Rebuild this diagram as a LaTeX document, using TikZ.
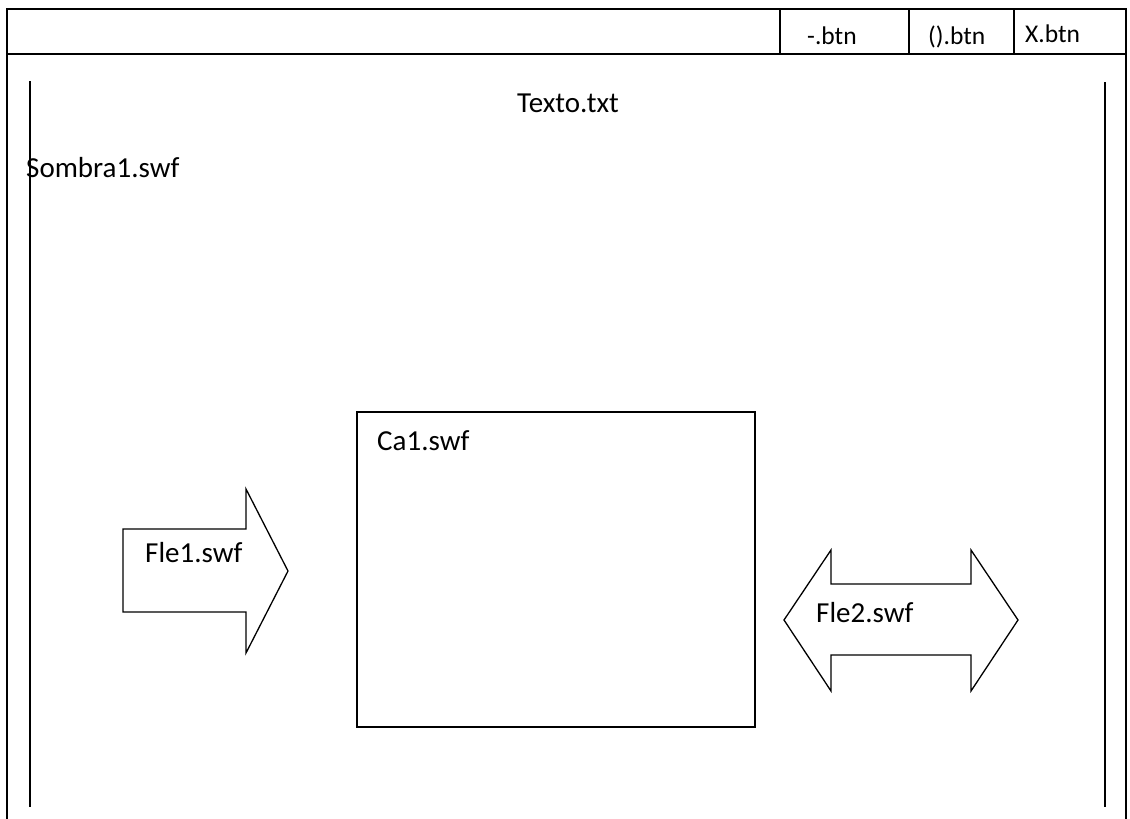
\documentclass[tikz,border=0pt]{standalone}
\usepackage{fontspec}
\setmainfont{Carlito}
\begin{document}
\begin{tikzpicture}[x=1pt,y=-1pt,
  frame/.style={draw=black,line width=1.6pt},
  thin/.style={draw=black,line width=1.3pt},
  cell/.style={draw=black,line width=1.6pt,rectangle,inner sep=0pt,outer sep=0pt,anchor=north west},
  lbl/.style={inner sep=0pt,anchor=base west,font=\fontsize{29}{32}\selectfont},
  btnlbl/.style={inner sep=0pt,anchor=base west,font=\fontsize{25.5}{29}\selectfont}]
\useasboundingbox (0,0) rectangle (1130,819);
\fill[white] (0,0) rectangle (1130,819);

% window frame and title bar
\coordinate (fbl) at (7,819);
\coordinate (ftl) at (7,9);
\coordinate (ftr) at (1126,9);
\coordinate (fbr) at (1126,819);
\draw[frame] (fbl) -- (ftl) -- (ftr) -- (fbr);
\coordinate (tbl) at (7,54);
\coordinate (tbr) at (1126,54);
\draw[frame] (tbl) -- (tbr);

% title bar buttons
\node[cell,minimum width=129pt,minimum height=45pt] (bmin) at (780,9) {};
\node[cell,minimum width=105pt,minimum height=45pt] (bmax) at (909,9) {};
\node[cell,minimum width=112pt,minimum height=45pt] (bclose) at (1014,9) {};
\node[btnlbl] (tmin) at (807,44) {-.btn};
\node[btnlbl] (tmax) at (928,44) {().btn};
\node[btnlbl] (tclose) at (1025,42) {X.btn};

% inner side rules
\coordinate (lt) at (30,81);
\coordinate (lb) at (30,807);
\coordinate (rt) at (1105,82);
\coordinate (rb) at (1105,807);
\draw[thin] (lt) -- (lb);
\draw[thin] (rt) -- (rb);

% texts
\node[lbl] (texto) at (517,112) {Texto.txt};
\node[lbl] (sombra) at (26,177) {Sombra1.swf};

% central box
\node[cell,minimum width=398pt,minimum height=315pt] (ca) at (357,412) {};
\node[lbl] (catext) at (377,450) {Ca1.swf};

% right-pointing arrow
\draw[thin,line join=miter] (123,529) -- (246,529) -- (246,489) -- (288,571)
  -- (246,653) -- (246,612) -- (123,612) -- cycle;
\node[lbl] (fle1) at (145,562) {Fle1.swf};

% double-headed arrow
\draw[thin,line join=miter] (784,620) -- (831,550) -- (831,584) -- (971,584)
  -- (971,550) -- (1018,620) -- (971,691) -- (971,655) -- (831,655)
  -- (831,691) -- cycle;
\node[lbl] (fle2) at (816,622) {Fle2.swf};
\end{tikzpicture}
\end{document}
